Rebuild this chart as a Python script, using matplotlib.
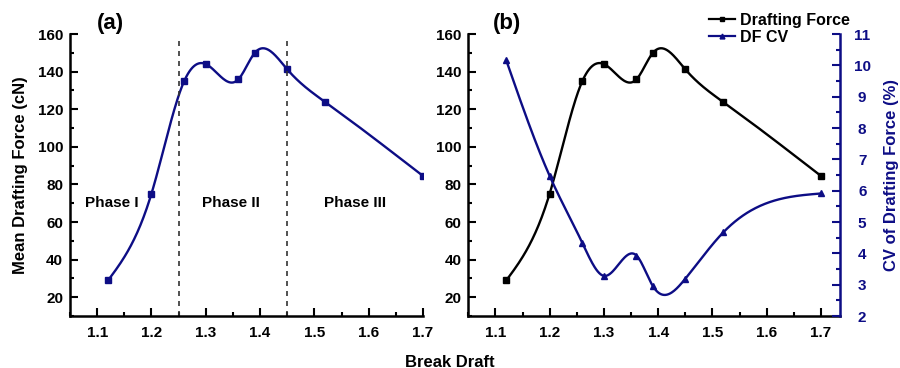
import matplotlib.pyplot as plt
import numpy as np
from matplotlib.ticker import MultipleLocator

plt.rcParams["font.family"] = ["Liberation Sans", "DejaVu Sans"]
plt.rcParams["font.weight"] = "bold"

NAVY = "#0d0d85"

draft = [1.12, 1.20, 1.26, 1.30, 1.36, 1.39, 1.45, 1.52, 1.70]
force = [28.9, 75.1, 134.8, 144.0, 135.9, 149.9, 141.2, 123.8, 84.5]
cv = [10.16, 6.47, 4.34, 3.28, 3.93, 2.96, 3.19, 4.67, 5.91]

phase_bounds = [1.25, 1.45]
phase_labels = ["Phase I", "Phase II", "Phase III"]
phase_pos = [(1.127, 70), (1.347, 70), (1.574, 70)]


def spline(x, y, n=400):
    # natural cubic spline through the points, for the smooth connecting line
    x = np.asarray(x, float)
    y = np.asarray(y, float)
    k = len(x)
    h = np.diff(x)
    A = np.zeros((k, k))
    b = np.zeros(k)
    A[0, 0] = A[-1, -1] = 1
    for i in range(1, k - 1):
        A[i, i - 1] = h[i - 1]
        A[i, i] = 2 * (h[i - 1] + h[i])
        A[i, i + 1] = h[i]
        b[i] = 6 * ((y[i + 1] - y[i]) / h[i] - (y[i] - y[i - 1]) / h[i - 1])
    M = np.linalg.solve(A, b)
    xs = np.linspace(x[0], x[-1], n)
    idx = np.clip(np.searchsorted(x, xs) - 1, 0, k - 2)
    x0, x1 = x[idx], x[idx + 1]
    hh = x1 - x0
    t1 = x1 - xs
    t0 = xs - x0
    ys = (M[idx] * t1 ** 3 + M[idx + 1] * t0 ** 3) / (6 * hh) \
        + (y[idx] / hh - M[idx] * hh / 6) * t1 \
        + (y[idx + 1] / hh - M[idx + 1] * hh / 6) * t0
    return xs, ys


def style_axes(ax):
    ax.set_xlim(1.05, 1.70)
    ax.set_ylim(10, 160)
    ax.xaxis.set_major_locator(MultipleLocator(0.1))
    ax.xaxis.set_minor_locator(MultipleLocator(0.05))
    ax.yaxis.set_minor_locator(MultipleLocator(10))
    ax.set_yticks(range(20, 161, 20))
    ax.tick_params(which="both", direction="in", width=1.5, labelsize=11)
    ax.tick_params(which="major", length=6)
    ax.tick_params(which="minor", length=3)
    ax.tick_params(axis="x", pad=7)
    ax.tick_params(axis="y", pad=5)
    for s in ("top", "right"):
        ax.spines[s].set_visible(False)
    for s in ("left", "bottom"):
        ax.spines[s].set_linewidth(1.8)
    for lab in ax.get_xticklabels() + ax.get_yticklabels():
        lab.set_fontweight("bold")


fig = plt.figure(figsize=(9, 3.68), dpi=100)
ax1 = fig.add_axes([0.0778, 0.1413, 0.3922, 0.7663])
ax2 = fig.add_axes([0.5203, 0.1413, 0.4130, 0.7663])

# panel (a)
xs, ys = spline(draft, force)
ax1.plot(xs, ys, color=NAVY, lw=1.7)
ax1.plot(draft, force, "s", color=NAVY, ms=4.5)
for xb in phase_bounds:
    ax1.axvline(xb, color="#333333", ls=(0, (3, 3)), lw=1.2, ymax=0.985)
for lab, (px, py) in zip(phase_labels, phase_pos):
    ax1.text(px, py, lab, ha="center", va="center", fontsize=11, fontweight="bold")
style_axes(ax1)
ax1.set_ylabel("Mean Drafting Force (cN)", fontsize=12, fontweight="bold")
ax1.yaxis.set_label_coords(-0.12, 0.5)
ax1.text(0.075, 1.038, "(a)", transform=ax1.transAxes, fontsize=16,
         fontweight="bold", ha="left", va="center")

# panel (b)
xs, ys = spline(draft, force)
ax2.plot(xs, ys, color="black", lw=1.7)
ax2.plot(draft, force, "s", color="black", ms=4.5)
style_axes(ax2)
ax2.set_xlim(1.05, 1.735)
ax2.text(0.067, 1.038, "(b)", transform=ax2.transAxes, fontsize=16,
         fontweight="bold", ha="left", va="center")

ax3 = ax2.twinx()
xs, ys = spline(draft, cv)
ax3.plot(xs, ys, color=NAVY, lw=1.7)
ax3.plot(draft, cv, "^", color=NAVY, ms=5)
ax3.set_ylim(2, 11)
ax3.yaxis.set_major_locator(MultipleLocator(1))
ax3.yaxis.set_minor_locator(MultipleLocator(0.5))
ax3.tick_params(which="both", direction="in", width=1.5, labelsize=11,
                colors=NAVY)
ax3.tick_params(which="major", length=6, pad=16)
ax3.tick_params(which="minor", length=3)
for s in ("top", "left", "bottom"):
    ax3.spines[s].set_visible(False)
ax3.spines["right"].set_color(NAVY)
ax3.spines["right"].set_linewidth(1.8)
for lab in ax3.get_yticklabels():
    lab.set_fontweight("bold")
    lab.set_horizontalalignment("center")
ax3.set_ylabel("CV of Drafting Force (%)", fontsize=12, fontweight="bold",
               color=NAVY)
ax3.yaxis.set_label_coords(1.118, 0.5)

h1 = plt.Line2D([], [], color="black", lw=1.6, marker="s", ms=3.5)
h2 = plt.Line2D([], [], color=NAVY, lw=1.6, marker="^", ms=3.5)
fig.legend([h1, h2], ["Drafting Force", "DF CV"], loc="upper left",
           bbox_to_anchor=(0.772, 1.005), frameon=False, handlelength=1.6,
           handletextpad=0.3, labelspacing=0.15, prop={"weight": "bold", "size": 11.5})

fig.text(0.5, 0.0163, "Break Draft", ha="center", va="center", fontsize=12,
         fontweight="bold")

fig.savefig("out.png", dpi=100)
